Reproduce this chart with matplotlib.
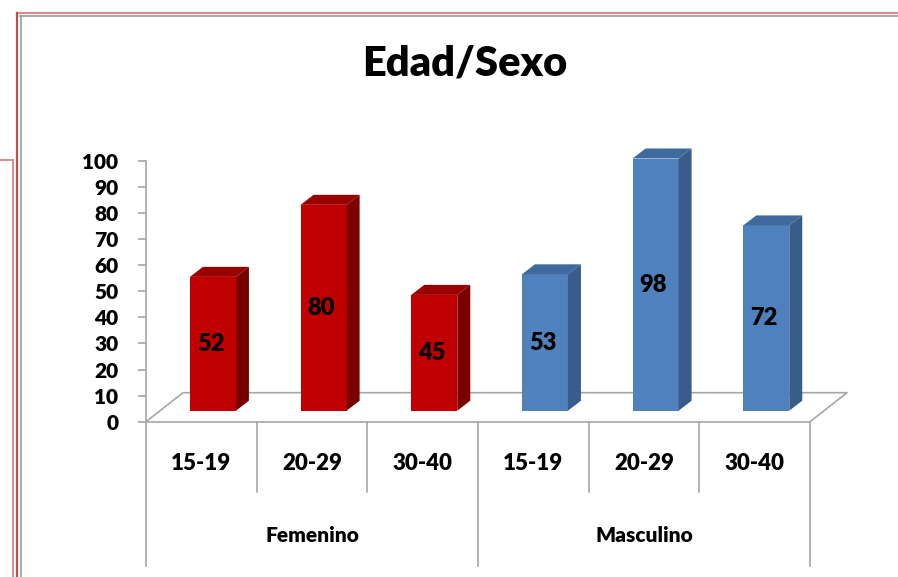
import matplotlib.pyplot as plt
from matplotlib.patches import Polygon
from matplotlib.lines import Line2D

plt.rcParams['font.family'] = ['Lato', 'DejaVu Sans']
plt.rcParams['font.weight'] = 'heavy'

# datos
grupos = ['Femenino', 'Masculino']
edades = ['15-19', '20-29', '30-40']
femenino = [52, 80, 45]
masculino = [53, 98, 72]
y_ticks = [0, 10, 20, 30, 40, 50, 60, 70, 80, 90, 100]

valores = femenino + masculino
colores = ['#C00000'] * 3 + ['#4F81BD'] * 3
lado = ['#7A0000'] * 3 + ['#385D8A'] * 3
techo = ['#9A0000'] * 3 + ['#3F6A9E'] * 3

W, H = 898, 577
fig = plt.figure(figsize=(W / 100, H / 100), dpi=100)
ax = fig.add_axes([146 / W, (H - 421.7) / H, 664 / W, 261 / H])
ax.set_xlim(0, 6)
ax.set_ylim(0, 100)

# efecto 3D (en unidades de datos)
px_x = 664 / 6
px_y = 261 / 100
off_x, off_y = 11.6 / px_x, 11 / px_y      # posicion de la cara frontal
dep_x, dep_y = 13 / px_x, 10 / px_y        # profundidad de la barra
ancho = 46 / px_x
persp = 0.986
piso_x, piso_y = 37 / px_x, 29 / px_y

gris = '#A6A6A6'
# piso
ax.add_line(Line2D([0, piso_x, 6 + piso_x, 6], [0, piso_y, piso_y, 0],
                   color=gris, lw=1.2, clip_on=False, zorder=1))

for i, v in enumerate(valores):
    xc = i + 0.5 + off_x
    h = v * persp
    x0, x1 = xc - ancho / 2, xc + ancho / 2
    y0, y1 = off_y, off_y + h
    ax.bar(xc, h, width=ancho, bottom=off_y, color=colores[i], zorder=3, clip_on=False)
    ax.add_patch(Polygon([(x1, y0), (x1 + dep_x, y0 + dep_y), (x1 + dep_x, y1 + dep_y), (x1, y1)],
                         closed=True, facecolor=lado[i], edgecolor='none', zorder=3, clip_on=False))
    ax.add_patch(Polygon([(x0, y1), (x0 + dep_x, y1 + dep_y), (x1 + dep_x, y1 + dep_y), (x1, y1)],
                         closed=True, facecolor=techo[i], edgecolor='none', zorder=3, clip_on=False))
    ax.text(xc - 0.02, y0 + h / 2, str(v), ha='center', va='center',
            fontsize=17, fontweight='heavy', zorder=4)

# ejes
for s in ['top', 'right']:
    ax.spines[s].set_visible(False)
ax.spines['left'].set_color(gris)
ax.spines['bottom'].set_color(gris)
ax.spines['left'].set_linewidth(1.2)
ax.spines['bottom'].set_linewidth(1.2)
ax.set_yticks(y_ticks)
ax.set_yticklabels([str(t) for t in y_ticks], fontsize=15, fontweight='heavy')
ax.tick_params(axis='y', length=6, color=gris, width=1.2, pad=14)
ax.set_xticks([])

# etiquetas de categorias
sub_y = -(463 - 421.7) / px_y
grp_y = -(536 - 421.7) / px_y
for i, e in enumerate(edades * 2):
    ax.text(i + 0.5, sub_y, e, ha='center', va='center', fontsize=16, fontweight='heavy')
for j, g in enumerate(grupos):
    ax.text(j * 3 + 1.5, grp_y, g, ha='center', va='center', fontsize=15, fontweight='heavy')

corto = -(492 - 421.7) / px_y
largo = -(566 - 421.7) / px_y
for k in range(7):
    fin = largo if k % 3 == 0 else corto
    ax.add_line(Line2D([k, k], [0, fin], color=gris, lw=1.2, clip_on=False))

fig.text(465 / W, 1 - 64 / H, 'Edad/Sexo', ha='center', va='center',
         fontsize=30, fontweight='heavy')

# bordes de la imagen
def linea(xs, ys, c, lw):
    fig.add_artist(Line2D([x / W for x in xs], [1 - y / H for y in ys],
                          transform=fig.transFigure, color=c, lw=lw))

linea([17, W], [13, 13], '#D98C8C', 1.6)
linea([20, W], [15.5, 15.5], '#9A9A9A', 1.2)
linea([17, 17], [13, H], '#C0504D', 1.6)
linea([20.5, 20.5], [15.5, H], '#9A9A9A', 1.2)
linea([0, 13], [160, 160], '#D98C8C', 1.4)
linea([13, 13], [160, H], '#D98C8C', 1.4)

fig.savefig('out.png', dpi=100)
